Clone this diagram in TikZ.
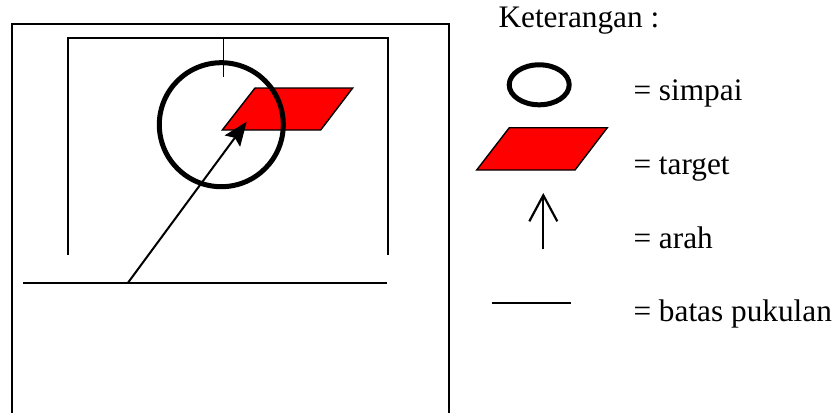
\documentclass[tikz,border=0pt]{standalone}
\usepackage{fontspec}
\setmainfont{Liberation Serif}
\usepackage{tikz}
\usetikzlibrary{arrows.meta}

\tikzset{
  thinline/.style={line width=1.6pt, black},
  hoop/.style={line width=5pt, black},
  targetfill/.style={fill=red, draw=black, line width=1.4pt, line join=miter},
  legendtext/.style={anchor=base west, inner sep=0pt, font=\fontsize{31.3}{36}\selectfont}
}

\begin{document}
\begin{tikzpicture}[x=1pt, y=-1pt]
  \useasboundingbox (0,0) rectangle (840,412);
  % --- Field ---
  \draw[thinline] (12,413) -- (12,24) -- (449,24) -- (449,413);
  \draw[thinline] (67.7,255) -- (67.7,38.3) -- (387.7,38.3) -- (387.7,255);
  \draw[thinline] (223.3,38.3) -- (223.3,77.3);
  \draw[thinline] (23.3,283) -- (387.3,283);
  % --- Target and hoop ---
  \draw[targetfill] (222.3,130) -- (255,88) -- (352.7,88) -- (320.7,130) -- cycle;
  \draw[hoop] (221.3,124.7) circle[radius=62];
  % --- Direction ---
  \coordinate (hit) at (128,282.7);
  \coordinate (aim) at (246.7,121.7);
  \draw[line width=2pt, -{Stealth[length=24pt, width=19pt, inset=4pt]}] (hit) -- (aim);
  % --- Legend ---
  \node[legendtext] (title) at (498.3,27.3) {Keterangan :};
  \draw[line width=5pt] (539.2,84.8) ellipse[x radius=30, y radius=20];
  \node[legendtext] (simpai) at (633.3,100) {= simpai};
  \draw[targetfill] (476.7,170) -- (509.3,127.7) -- (607.3,127.7) -- (575,170) -- cycle;
  \node[legendtext] (target) at (633.3,174) {= target};
  \coordinate (lgfrom) at (543.3,249.3);
  \coordinate (lgto) at (543.3,193);
  \draw[line width=2.2pt, -{Straight Barb[length=26pt, width=28pt]}] (lgfrom) -- (lgto);
  \node[legendtext] (arah) at (633.3,248.3) {= arah};
  \draw[thinline] (491.7,302.7) -- (570.7,302.7);
  \node[legendtext] (batas) at (633.3,321.7) {= batas pukulan};
\end{tikzpicture}
\end{document}
